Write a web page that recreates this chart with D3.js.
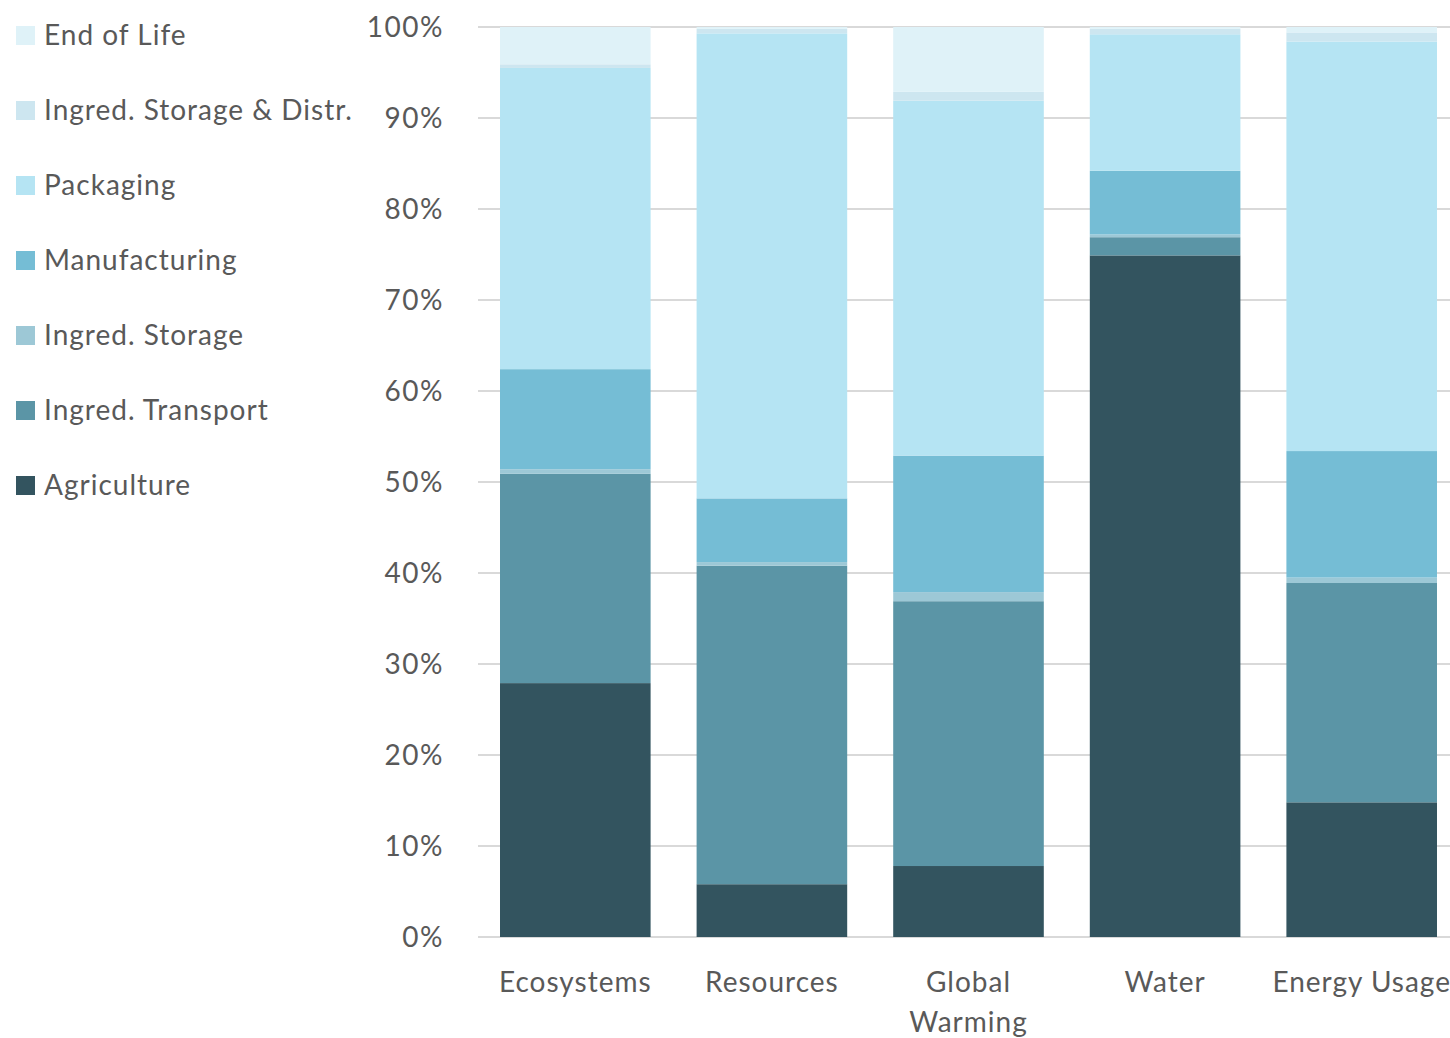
<!DOCTYPE html>
<html><head><meta charset="utf-8">
<script src="https://cdn.jsdelivr.net/npm/d3@7"></script>
<style>body{margin:0;background:#fff;} svg{display:block;font-family:Lato,"Open Sans",sans-serif;}</style>
</head><body>
<svg id="c" width="1450" height="1038"></svg>
<script>
const categories = ["Ecosystems","Resources","Global Warming","Water","Energy Usage"];
const seriesNames = ["Agriculture","Ingred. Transport","Ingred. Storage","Manufacturing","Packaging","Ingred. Storage & Distr.","End of Life"];
const agriculture   = [27.9, 5.8, 7.8, 74.9, 14.8];
const transport     = [23.0, 35.0, 29.1, 2.0, 24.1];
const storage       = [0.5, 0.4, 1.0, 0.3, 0.6];
const manufacturing = [11.0, 7.0, 15.0, 7.0, 13.9];
const packaging     = [33.1, 51.1, 39.0, 15.0, 45.0];
const storageDistr  = [0.4, 0.5, 1.0, 0.6, 1.0];
const endOfLife     = [4.1, 0.2, 7.1, 0.2, 0.6];
const yTicks = [0,10,20,30,40,50,60,70,80,90,100];
const colors = ["#33545f","#5b95a6","#9dc8d6","#75bdd5","#b5e4f3","#cde6f0","#dff2f8"];

const seriesValues = [agriculture, transport, storage, manufacturing, packaging, storageDistr, endOfLife];
const rows = categories.map((c,i)=>{const r={cat:c}; seriesNames.forEach((s,j)=>r[s]=seriesValues[j][i]); return r;});
const stacked = d3.stack().keys(seriesNames)(rows);

const svg = d3.select("#c");
const x = d3.scaleBand().domain(categories).range([477,1460]).paddingInner(0.234).paddingOuter(0.117);
const y = d3.scaleLinear().domain([0,100]).range([937,27]);
const color = d3.scaleOrdinal().domain(seriesNames).range(colors);

// gridlines
svg.append("g").selectAll("line").data(yTicks).join("line")
  .attr("x1",478).attr("x2",1450).attr("y1",d=>y(d)).attr("y2",d=>y(d))
  .attr("stroke","#d9d9d9").attr("stroke-width",2);

// y axis labels
const yAxis = d3.axisLeft(y).tickValues(yTicks).tickFormat(d=>d+"%").tickSize(0).tickPadding(0);
const ya = svg.append("g").attr("transform","translate(444,0)").call(yAxis);
ya.select(".domain").remove();
ya.selectAll("text").attr("font-size",28).attr("fill","#595959").attr("font-family","Lato,sans-serif")
  .attr("dy","0.33em").attr("letter-spacing","1.5px");

// bars
svg.append("g").selectAll("g").data(stacked).join("g").attr("fill",d=>color(d.key))
  .selectAll("rect").data(d=>d).join("rect")
  .attr("x",d=>x(d.data.cat)).attr("width",x.bandwidth())
  .attr("y",d=>y(d[1])).attr("height",d=>Math.max(0,y(d[0])-y(d[1])));

// x labels
const xl = svg.append("g").selectAll("text").data(categories).join("text")
  .attr("x",d=>x(d)+x.bandwidth()/2).attr("y",992)
  .attr("text-anchor","middle").attr("font-size",28).attr("fill","#595959").attr("letter-spacing","1px");
xl.each(function(d){
  const t = d3.select(this);
  const parts = d==="Global Warming" ? ["Global","Warming"] : [d];
  parts.forEach((p,i)=>t.append("tspan").attr("x",x(d)+x.bandwidth()/2).attr("dy",i?40:0).text(p));
});

// legend
const legendOrder = seriesNames.slice().reverse();
const lg = svg.append("g").selectAll("g").data(legendOrder).join("g")
  .attr("transform",(d,i)=>`translate(16,${35+i*75})`);
lg.append("rect").attr("x",0).attr("y",-9).attr("width",19).attr("height",19).attr("fill",d=>color(d));
lg.append("text").attr("x",28).attr("y",0).attr("dy","0.35em").attr("font-size",28).attr("fill","#595959")
  .attr("letter-spacing","1px").text(d=>d);
</script>
</body></html>
